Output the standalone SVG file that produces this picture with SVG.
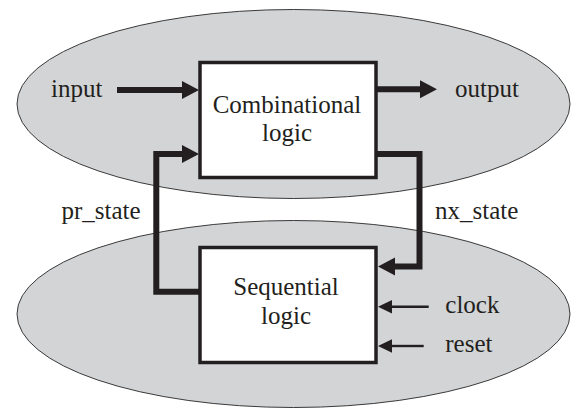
<svg xmlns="http://www.w3.org/2000/svg" width="577" height="419" viewBox="0 0 577 419">
<style>
.zone{fill:#d3d4d6;stroke:#3a3a3a;stroke-width:1}
.box{fill:#ffffff;stroke:#231f20;stroke-width:3.5}
text{font-family:'Liberation Serif','Times New Roman',Times,serif;font-size:25px;fill:#231f20}
.mid{text-anchor:middle}
.thick{fill:none;stroke:#231f20;stroke-width:6;stroke-linejoin:miter}
.thin{fill:none;stroke:#231f20;stroke-width:2.4}
</style>
<defs>
<marker id="bigArrow" markerUnits="userSpaceOnUse" markerWidth="18" markerHeight="20" refX="0" refY="9" orient="auto" viewBox="0 0 18 18">
<polygon points="0,0 17,9 0,18" fill="#231f20"/>
</marker>
<marker id="smallArrow" markerUnits="userSpaceOnUse" markerWidth="15" markerHeight="14" refX="0" refY="6.7" orient="auto" viewBox="0 0 15 13.4">
<polygon points="0,0 14,6.7 0,13.4" fill="#231f20"/>
</marker>
</defs>
<g id="zone-combinational">
<ellipse class="zone" cx="293.5" cy="104" rx="276.5" ry="94.5"/>
</g>
<g id="zone-sequential">
<ellipse class="zone" cx="293.5" cy="314" rx="276.5" ry="93.5"/>
</g>
<g id="combinational">
<rect class="box" x="200" y="62.5" width="176" height="115"/>
<text class="mid" x="287" y="113" font-family="Liberation Serif, serif">Combinational</text>
<text class="mid" x="287" y="141" font-family="Liberation Serif, serif">logic</text>
</g>
<g id="sequential">
<rect class="box" x="200" y="247.5" width="176" height="115"/>
<text class="mid" x="286" y="295" font-family="Liberation Serif, serif">Sequential</text>
<text class="mid" x="286" y="323.5" font-family="Liberation Serif, serif">logic</text>
</g>
<g id="connectors">
<path id="c-input" class="thick" d="M117,90 H182" marker-end="url(#bigArrow)"/>
<path id="c-output" class="thick" d="M376,89.3 H420" marker-end="url(#bigArrow)"/>
<path id="c-pr_state" class="thick" d="M200,291.7 H156.3 V154 H182" marker-end="url(#bigArrow)"/>
<path id="c-nx_state" class="thick" d="M376,154 H419.5 V266.5 H395" marker-end="url(#bigArrow)"/>
<path id="c-clock" class="thin" d="M428.7,306.7 H392" marker-end="url(#smallArrow)"/>
<path id="c-reset" class="thin" d="M423.7,346 H392" marker-end="url(#smallArrow)"/>
</g>
<g id="labels">
<text x="51" y="96.5" font-family="Liberation Serif, serif">input</text>
<text x="455" y="96.5" font-family="Liberation Serif, serif">output</text>
<text x="61.5" y="219.3" font-family="Liberation Serif, serif">pr_state</text>
<text x="435" y="219.3" font-family="Liberation Serif, serif">nx_state</text>
<text x="445.3" y="312.7" font-family="Liberation Serif, serif">clock</text>
<text x="445.3" y="351.5" font-family="Liberation Serif, serif">reset</text>
</g>
</svg>
